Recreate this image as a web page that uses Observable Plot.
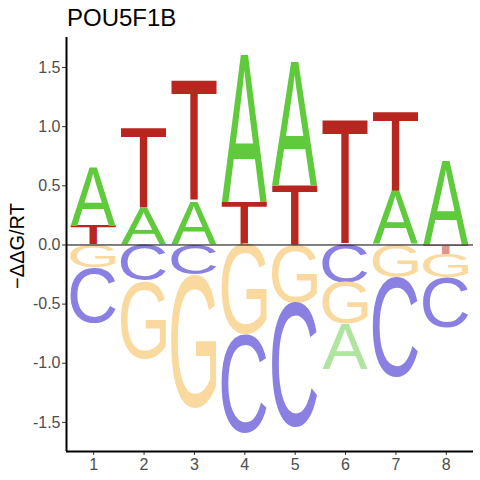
<!DOCTYPE html>
<html>
<head>
<meta charset="utf-8">
<script src="https://cdn.jsdelivr.net/npm/d3@7"></script>
<script src="https://cdn.jsdelivr.net/npm/@observablehq/plot@0.6"></script>
<style>
  body { margin: 0; background: #fff; }
  #wrap { position: relative; width: 480px; height: 480px; font-family: "Liberation Sans", Arial, sans-serif; }
  #title { height: 36px; line-height: 36px; padding-left: 67px; font-size: 24px; color: #000; box-sizing: border-box; }
  #ylab { position: absolute; left: 17px; top: 246px; transform: translate(-50%, -50%) rotate(-90deg); white-space: nowrap; font-size: 20px; color: #000; }
  #wrap svg text { fill: #4d4d4d; }
</style>
</head>
<body>
<div id="wrap">
  <div id="title">POU5F1B</div>
  <div id="ylab">−ΔΔG/RT</div>
</div>
<script>
// ---- data ----
const positions = [1, 2, 3, 4, 5, 6, 7, 8];
const letters = ["A", "C", "G", "T"];
const energyA = [0.50, 0.30, 0.36, 1.24, 1.04, -0.38, 0.45, 0.70];
const energyC = [-0.47, -0.305, -0.254, -0.83, -1.053, -0.319, -0.844, -0.423];
const energyG = [-0.19, -0.66, -1.125, -0.763, -0.489, -0.351, -0.28, -0.198];
const energyT = [0.16, 0.678, 1.026, 0.358, 0.50, 1.05, 0.671, -0.079];
const xDomain = [0.46, 8.54];
const yDomain = [-1.746, 1.754];
const colorsAbove = {A: "#5fcb3c", C: "#1a0ac8", G: "#f5b53d", T: "#b8271f"};
const colorsBelow = {A: "#b0e5a0", C: "#8a80e2", G: "#fad99e", T: "#dc958f"};

const energies = {A: energyA, C: energyC, G: energyG, T: energyT};

// stack letters per position
const rows = [];
positions.forEach((p, i) => {
  const vals = letters.map(L => ({letter: L, v: energies[L][i]}));
  let c = 0;
  vals.filter(d => d.v > 0).sort((a, b) => a.v - b.v).forEach(d => {
    rows.push({pos: p, letter: d.letter, lo: c, hi: c + d.v, sign: 1});
    c += d.v;
  });
  c = 0;
  vals.filter(d => d.v < 0).sort((a, b) => b.v - a.v).forEach(d => {
    rows.push({pos: p, letter: d.letter, lo: c + d.v, hi: c, sign: -1});
    c += d.v;
  });
});

// glyph ink metrics
const FONT_FAMILY = "Liberation Sans";
const FONT_WEIGHT = "normal";
const ctx = document.createElement("canvas").getContext("2d");
ctx.font = `${FONT_WEIGHT} 100px "${FONT_FAMILY}"`;
ctx.textAlign = "left";
ctx.textBaseline = "alphabetic";
const metrics = {};
for (const L of letters) {
  const m = ctx.measureText(L);
  metrics[L] = {
    left: m.actualBoundingBoxLeft,
    right: m.actualBoundingBoxRight,
    ascent: m.actualBoundingBoxAscent,
    descent: m.actualBoundingBoxDescent
  };
}

const letterWidth = 0.9;
const svgNS = "http://www.w3.org/2000/svg";

function logoMark(index, scales) {
  const g = document.createElementNS(svgNS, "g");
  g.setAttribute("aria-label", "logo letters");
  g.setAttribute("text-anchor", "start");
  for (const r of rows) {
    const px0 = scales.x(r.pos - letterWidth / 2);
    const px1 = scales.x(r.pos + letterWidth / 2);
    const py0 = scales.y(r.hi);
    const py1 = scales.y(r.lo);
    const m = metrics[r.letter];
    const inkW = m.left + m.right;
    const inkH = m.ascent + m.descent;
    const sx = (px1 - px0) / inkW;
    const sy = (py1 - py0) / inkH;
    const t = document.createElementNS(svgNS, "text");
    t.textContent = r.letter;
    t.setAttribute("x", 0);
    t.setAttribute("y", 0);
    t.setAttribute("text-anchor", "start");
    t.setAttribute("font-family", FONT_FAMILY);
    t.setAttribute("font-weight", FONT_WEIGHT);
    t.setAttribute("font-size", 100);
    t.setAttribute("style", `fill:${r.sign > 0 ? colorsAbove[r.letter] : colorsBelow[r.letter]};text-anchor:start`);
    t.setAttribute("transform",
      `translate(${px0},${py0}) scale(${sx},${sy}) translate(${m.left},${m.ascent})`);
    g.appendChild(t);
  }
  return g;
}

const chart = Plot.plot({
  width: 480,
  height: 444,
  marginLeft: 66,
  marginRight: 7,
  marginTop: 1,
  marginBottom: 29,
  style: {fontSize: "16px", fontFamily: `"${FONT_FAMILY}", Arial, sans-serif`, color: "#333", background: "#fff"},
  x: {domain: xDomain, ticks: 8, tickFormat: d => String(d), tickSize: 4, tickPadding: 3, label: null},
  y: {domain: yDomain, ticks: 7, tickFormat: d => d.toFixed(1), tickSize: 4, tickPadding: 2, label: null},
  marks: [
    logoMark,
    Plot.ruleY([0], {stroke: "#000", strokeWidth: 1}),
    Plot.ruleX([xDomain[0]], {stroke: "#000", strokeWidth: 2}),
    Plot.ruleY([yDomain[0]], {stroke: "#000", strokeWidth: 2})
  ]
});
document.getElementById("wrap").appendChild(chart);
</script>
</body>
</html>
